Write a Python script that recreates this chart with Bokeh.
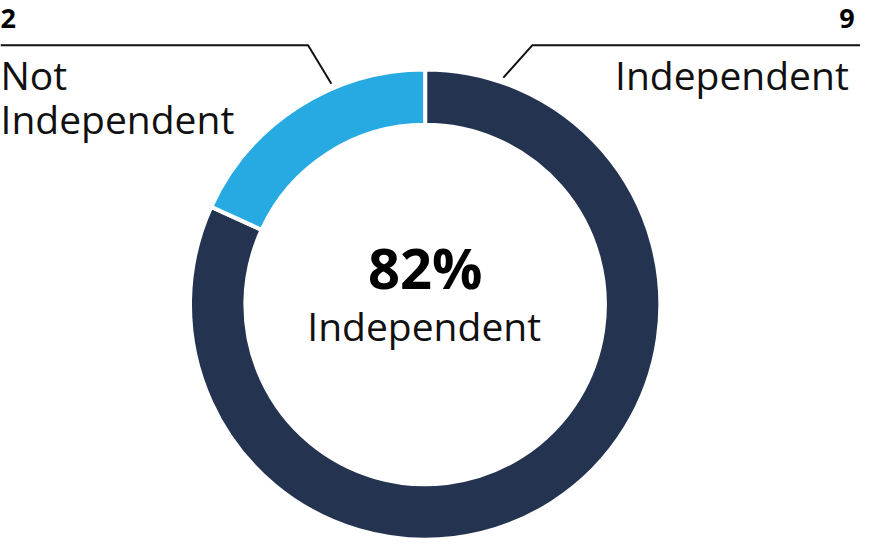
import numpy as np
from bokeh.plotting import figure
from bokeh.models import Range1d
from bokeh.embed import file_html
from bokeh.resources import INLINE
from bokeh.core.properties import value

# ---- data ----
categories = ["Independent", "Not Independent"]
counts = [9, 2]
label_lines = [["Independent"], ["Not", "Independent"]]
colors = ["#243450", "#27aae1"]
center_caption = "Independent"

# ---- layout (reference pixel space, y measured from top) ----
W, H = 885, 560
S = 544 / 560
CX, CY = 437, 313
R_OUT, R_IN = 242, 185
FONT = "Open Sans"
BASE_FIX = 0.4  # baseline correction, fraction of font size

def Y(y):
    return H - y

def BY(y, fs):
    # baseline position corrected for the svg renderer's offset
    return Y(y - BASE_FIX * fs)

p = figure(width=round(W * S), height=round(H * S),
           x_range=Range1d(0, W), y_range=Range1d(0, H),
           output_backend="svg", toolbar_location=None, min_border=0)
p.axis.visible = False
p.grid.visible = False
p.outline_line_color = None
p.background_fill_color = "white"
p.border_fill_color = "white"

total = float(sum(counts))
fracs = [c / total for c in counts]
cum = np.concatenate([[0], np.cumsum(fracs)])
starts = [np.pi / 2 - 2 * np.pi * cum[i] for i in range(len(counts))]
ends = [np.pi / 2 - 2 * np.pi * cum[i + 1] for i in range(len(counts))]

p.annular_wedge(x=[CX] * len(counts), y=[Y(CY)] * len(counts),
                inner_radius=R_IN, outer_radius=R_OUT,
                start_angle=starts, end_angle=ends, direction="clock",
                fill_color=colors, line_color="white", line_width=4)

# ---- leader lines ----
line_y = Y(46)
anchor_r = 247
anchor_angles = [starts[0] - np.radians(19), ends[1] + np.radians(23)]
elbow_dx = [30, -24]
edge_x = [W, 0]
for a, dx, ex in zip(anchor_angles, elbow_dx, edge_x):
    ax = CX + anchor_r * np.cos(a)
    ay = Y(CY) + anchor_r * np.sin(a)
    p.line([ax, ax + dx, ex], [ay, line_y, line_y], line_color="#111111", line_width=2)

# ---- labels ----
FS_NUM, FS_LAB, FS_PCT = 28, 40, 58
fs_num = f"{round(FS_NUM * S)}px"
fs_lab = f"{round(FS_LAB * S)}px"
fs_pct = f"{round(FS_PCT * S)}px"

# right (slice 0)
p.text(x=[879], y=[BY(30, FS_NUM)], text=[str(counts[0])], text_align="right",
       text_baseline="alphabetic", text_font=value(FONT), text_font_style="bold",
       text_font_size=fs_num, text_color="#000000")
for i, t in enumerate(label_lines[0]):
    p.text(x=[873], y=[BY(92 + 45 * i, FS_LAB)], text=[t], text_align="right",
           text_baseline="alphabetic", text_font=value(FONT),
           text_font_size=fs_lab, text_color="#111111")
# left (slice 1)
p.text(x=[0], y=[BY(30, FS_NUM)], text=[str(counts[1])], text_align="left",
       text_baseline="alphabetic", text_font=value(FONT), text_font_style="bold",
       text_font_size=fs_num, text_color="#000000")
for i, t in enumerate(label_lines[1]):
    p.text(x=[0], y=[BY(92 + 45 * i, FS_LAB)], text=[t], text_align="left",
           text_baseline="alphabetic", text_font=value(FONT),
           text_font_size=fs_lab, text_color="#111111")

# ---- center ----
pct = round(100 * counts[0] / total)
p.text(x=[CX], y=[BY(298, FS_PCT)], text=[f"{pct}%"], text_align="center",
       text_baseline="alphabetic", text_font=value(FONT), text_font_style="bold",
       text_font_size=fs_pct, text_color="#000000")
p.text(x=[CX - 1], y=[BY(351, FS_LAB)], text=[center_caption], text_align="center",
       text_baseline="alphabetic", text_font=value(FONT),
       text_font_size=fs_lab, text_color="#111111")

open("out.html", "w").write(file_html(p, INLINE))
